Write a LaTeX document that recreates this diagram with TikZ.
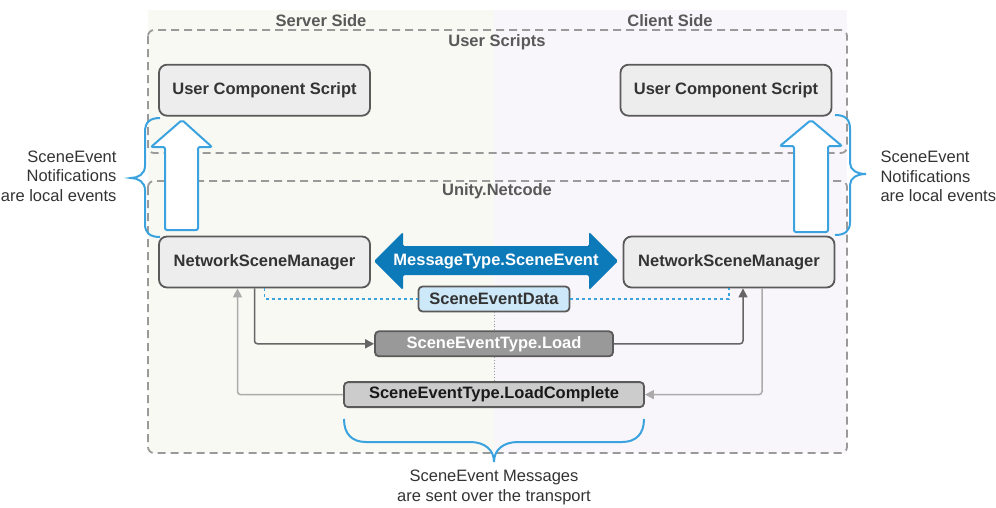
\documentclass[tikz,border=0pt]{standalone}
\usepackage{fontspec}
\setmainfont{Liberation Sans}
\usetikzlibrary{positioning, arrows.meta}

\definecolor{serverbg}{HTML}{F7F9F2}
\definecolor{clientbg}{HTML}{F8F6FA}
\definecolor{framegray}{HTML}{9A9A9A}
\definecolor{boxfill}{HTML}{EDEDED}
\definecolor{boxline}{HTML}{5A5A5A}
\definecolor{msgblue}{HTML}{0C79B8}
\definecolor{noteblue}{HTML}{3AA3DF}
\definecolor{datafill}{HTML}{CDE8F8}
\definecolor{loadfill}{HTML}{999999}
\definecolor{completefill}{HTML}{CCCCCC}
\definecolor{textgray}{HTML}{333333}

\newcommand{\labelfont}{\fontsize{16.5}{19.5}\selectfont}

\tikzstyle{block} = [rectangle, rounded corners=8pt, minimum width=211pt, minimum height=51pt, text centered, draw=boxline, line width=1.8pt, fill=boxfill, text=textgray, font=\labelfont\bfseries]
\tikzstyle{msgbox} = [rectangle, rounded corners=4pt, minimum height=25pt, inner sep=2pt, text centered, draw=boxline, line width=1.8pt, font=\labelfont\bfseries]
\tikzstyle{frame} = [draw=framegray, line width=1.8pt, dash pattern=on 8pt off 5pt, rounded corners=6pt]
\tikzstyle{title} = [font=\labelfont\bfseries, text=black!65]
\tikzstyle{note} = [font=\labelfont, text=textgray]
\tikzstyle{darkarrow} = [line width=1.5pt, draw=black!60, rounded corners=3pt, -{Triangle[length=9pt,width=9pt]}]
\tikzstyle{lightarrow} = [line width=1.5pt, draw=black!33, rounded corners=3pt, -{Triangle[length=9pt,width=9pt]}]
\tikzstyle{dataline} = [line width=1.4pt, draw=noteblue, dash pattern=on 3pt off 3pt]
\tikzstyle{midline} = [line width=0.8pt, draw=black!40, dotted]
\tikzstyle{hollow} = [draw=noteblue, line width=2pt, fill=white, rounded corners=2pt]
\tikzstyle{brace} = [draw=noteblue, line width=2pt]

\begin{document}
\begin{tikzpicture}[x=1pt, y=-1pt]
\useasboundingbox (0,0) rectangle (996,507);

% Server and client sides
\fill[serverbg] (148,10) rectangle (494,453);
\fill[clientbg] (494,10) rectangle (847,453);
\node (server) [title] at (321,21) {Server Side};
\node (client) [title] at (670,21) {Client Side};

% Layers
\draw[frame] (148,30) rectangle (847,153);
\draw[frame] (148,181) rectangle (847,453);
\node (scripts) [title] at (497,42) {User Scripts};
\node (netcode) [title] at (497,191.5) {Unity.Netcode};

% Network scene managers
\node (nsmS) [block] at (264.5,262) {NetworkSceneManager};
\node (nsmC) [block] at (729,262) {NetworkSceneManager};

% User component scripts
\node (ucsS) [block, above=119pt of nsmS] {User Component Script};
\node (ucsC) [block, above=119pt of nsmC, xshift=-3pt] {User Component Script};

% Local notifications
\draw[hollow] (182,120) -- (212,147) -- (198,147) -- (198,230) -- (165,230) -- (165,147) -- (151,147) -- cycle;
\draw[hollow] (811,120) -- (842,146) -- (828,146) -- (828,232) -- (794,232) -- (794,146) -- (780,146) -- cycle;

% Message between both sides
\fill[msgblue, rounded corners=1.5pt] (374,261) -- (403,232) -- (403,246) -- (589,246) -- (589,232) -- (618,261)
  -- (589,290) -- (589,275) -- (403,275) -- (403,290) -- cycle;
\node (msg) [font=\labelfont\bfseries, text=white] at (496,261) {MessageType.SceneEvent};

% Scene event messages
\node (sed) [msgbox, fill=datafill, text=textgray, minimum width=151pt] at (494,299) {SceneEventData};
\node (load) [msgbox, fill=loadfill, text=white, minimum width=238pt, below=18pt of sed] {SceneEventType.Load};
\node (lc) [msgbox, fill=completefill, text=black!90, minimum width=300pt, below=24pt of load] {SceneEventType.LoadComplete};

% Connectors
\draw[dataline] (nsmS.south) |- (sed.west);
\draw[dataline] (sed.east) -| (nsmC.south);
\draw[midline] (sed.south) -- (load.north);
\draw[midline] (load.south) -- (lc.north);
\draw[darkarrow] ([xshift=-10pt]nsmS.south) |- (load.west);
\draw[darkarrow] (load.east) -| ([xshift=14pt]nsmC.south);
\draw[lightarrow] ([xshift=33pt]nsmC.south) |- (lc.east);
\draw[lightarrow] (lc.west) -| ([xshift=-27pt]nsmS.south);

% Braces
\draw[brace] (160,118) .. controls (150,118) and (145,122) .. (145,132) -- (145,166)
  .. controls (145,174) and (138,178) .. (131,178) .. controls (138,178) and (145,182) .. (145,190)
  -- (145,224) .. controls (145,233) and (150,237) .. (160,237);
\draw[brace] (835,115) .. controls (845,115) and (850,119) .. (850,129) -- (850,163)
  .. controls (850,170) and (857,174) .. (866,174) .. controls (857,174) and (850,178) .. (850,185)
  -- (850,222) .. controls (850,231) and (845,235) .. (835,235);
\draw[brace] (344,419) .. controls (344,434) and (352,442) .. (366,442) -- (470,442)
  .. controls (485,442) and (494,450) .. (494,462) .. controls (494,450) and (503,442) .. (518,442)
  -- (622,442) .. controls (636,442) and (644,434) .. (644,419);

% Notes
\node (noteS) [note, anchor=east, align=right] at (120,176) {SceneEvent\\Notifications\\are local events};
\node (noteC) [note, anchor=west, align=left] at (877,176.5) {SceneEvent\\Notifications\\are local events};
\node (noteMsg) [note, align=center] at (494,487.5) {SceneEvent Messages\\are sent over the transport};

\end{tikzpicture}
\end{document}
